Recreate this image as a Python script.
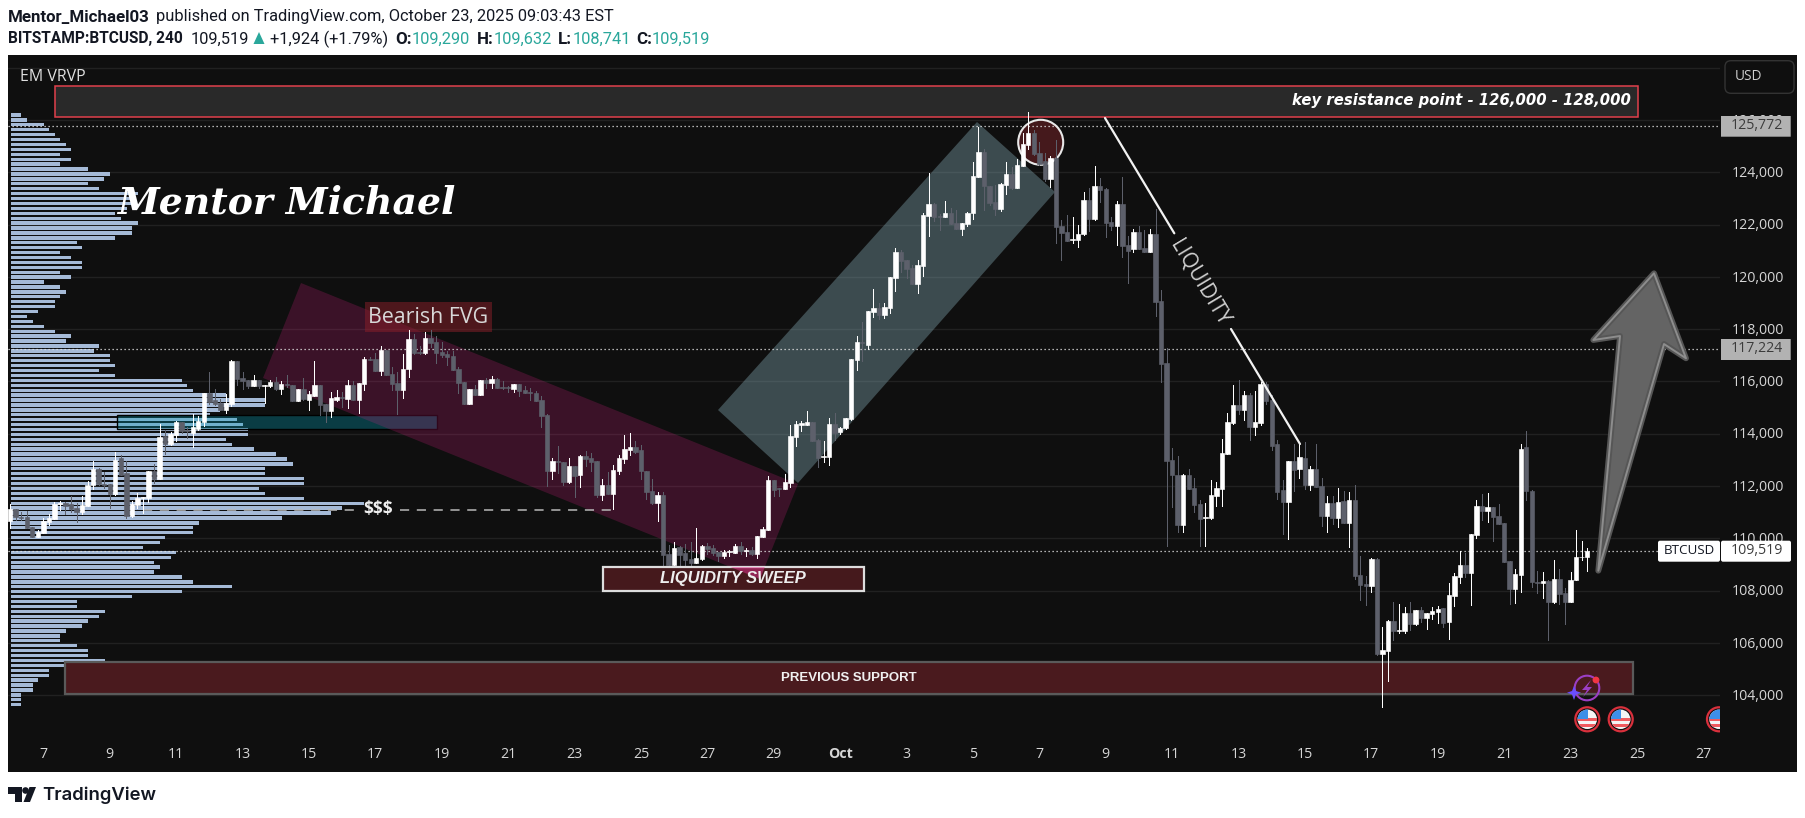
import numpy as np, pandas as pd, seaborn as sns
import matplotlib
matplotlib.use("Agg")
import matplotlib.pyplot as plt
import matplotlib.dates as mdates
from matplotlib.patches import Polygon, Rectangle, Circle, FancyBboxPatch
from matplotlib.transforms import Affine2D, ScaledTranslation

opens = [110660,111120,110830,110800,110420,110050,110210,110610,110740,111310,
111340,111310,111150,111000,111230,112040,112650,112080,112080,111690,
113060,112480,110850,111270,111550,111550,112570,112270,113910,113610,
113950,114450,114140,114030,114180,114450,115560,115290,115160,114910,
115140,116780,116130,116050,115820,116050,115840,115820,115980,115710,
115900,115860,115260,115710,115290,115440,115860,115140,114870,115290,
115390,115330,115860,115290,115900,116860,116860,116400,117200,116280,
115940,115670,116470,117620,117120,117090,117660,117510,117120,117050,
116970,116470,115980,115140,115710,115480,116050,115940,116090,115790,
115790,115710,115900,115670,115600,115560,115290,114715,112570,112960,
112920,112150,112760,112420,113150,113070,112960,111650,112040,111690,
112570,113030,113380,113490,113380,112570,111810,111350,111650,109400,
108980,109670,109440,109210,109050,109200,109700,109630,109490,109320,
109460,109450,109700,109510,109550,109400,110050,110310,112230,111920,
111880,112110,113870,114320,114330,114450,113760,113120,113110,114370,
114050,114220,114560,116820,117510,117390,118650,118810,118540,118810,
119960,120950,120640,120340,119730,120415,122330,122790,122330,122290,
122440,122060,121830,122020,122440,123820,124775,123475,122860,122595,
123510,123930,123400,124240,125040,125500,124740,124430,123740,124545,
121945,121715,121420,121410,121625,122940,122200,123475,123360,122100,
121945,122790,121220,121065,121715,121100,120950,121640,119075,116705,
112990,112420,110510,112420,111925,111310,110775,110775,111615,111885,
113225,114410,115100,114905,115480,114255,114410,115900,115290,113605,
111845,111390,112955,112650,113070,112040,112650,112000,110850,111350,
110775,111425,110585,111465,108595,108250,108175,109205,105575,105690,
106835,106455,106455,107140,106720,107255,106950,107105,107180,107335,
106800,107790,108520,108980,108670,110125,111235,111045,111195,110850,
110585,109130,108060,108595,113490,111810,108330,108275,108380,107550,
108440,107905,107575,108405,109280,109290]
highs = [111310,111120,110990,111040,110420,110310,110760,110930,111370,111420,
111400,111620,111340,111620,112190,112960,112680,112530,112080,113300,
113180,112960,111420,111720,111580,112570,112840,114370,114140,114060,
114500,114450,114240,114750,114680,115560,116360,115700,115310,115500,
116820,116780,116360,116050,116240,116050,115860,116050,116180,116010,
116240,115860,115710,116120,115630,116780,115860,115140,115610,115670,
115610,116050,116010,115940,116950,116950,117070,117350,117200,116560,
116370,117050,117960,117810,117350,117890,117960,117740,117510,117180,
117160,116560,115980,115710,115860,116050,116120,116210,116140,116010,
115820,115900,115900,115820,115730,115630,115440,114740,113060,113530,
112920,113060,112760,113180,113350,113250,112960,112270,112530,112800,
113180,113950,114030,113720,113570,112570,112270,111770,111770,109740,
109860,109700,109780,109860,110390,109740,109810,109740,109490,109550,
109550,109780,109860,109630,109670,110090,110430,112380,112230,111920,
112460,114330,114480,114480,114870,114450,113800,113720,114600,114790,
114260,114600,116860,117740,118260,118690,119520,118990,118990,119990,
121100,121030,120640,120450,120640,122430,123970,122810,122400,122900,
122630,122560,122060,122480,124390,125730,124880,123475,123510,123590,
124390,124190,124510,125490,126300,125620,125160,124720,124620,125234,
122175,122365,122290,121980,123245,123400,124240,123780,123400,122290,
122900,123820,121560,121830,121945,121790,121830,122595,119495,117265,
113455,113145,112460,112635,112305,111465,111350,112230,112140,113800,
114790,115860,116055,115635,115555,115635,115980,115980,115480,113760,
112230,112955,113605,113605,113680,112765,113605,112305,111615,111615,
111925,111810,111770,112040,109320,108555,109245,109245,106605,106875,
107565,107490,107370,107565,107255,107370,107140,107370,107410,107335,
108290,108670,109515,109435,110165,111465,111695,111730,111195,111310,
110585,109130,108825,113605,114100,111845,108750,108725,108405,109170,
108810,108085,108725,110315,109900,109632]
lows = [110380,110700,110700,110380,110050,110050,110210,110510,110740,111080,
110930,111020,110630,110930,111230,111900,112040,111910,111150,111650,
112420,110760,110830,111150,110950,111370,112100,112270,113210,113550,
113720,114040,113850,113500,114140,114290,115140,115100,114920,114800,
115060,115860,115710,115760,115820,115730,115190,115800,115670,115520,
115800,115260,115260,115290,114910,115440,114715,114460,114650,115260,
115030,114980,115290,114800,115670,116820,116400,116240,116240,115670,
114750,115370,116180,117050,117050,117050,117330,116690,116950,116630,
116440,115540,115140,115140,115480,115480,115750,115750,115750,115710,
115600,115600,115440,115560,115290,115260,114270,112000,112270,112500,
112040,112100,111590,111970,112760,112590,111590,111460,111690,111120,
112460,112880,113180,113260,112270,111500,111310,110670,108660,108910,
108910,108980,108790,108720,109050,109170,109400,109360,109130,109250,
109320,109420,109400,109320,109360,109250,110050,110310,111620,111620,
111880,111960,113530,114100,114330,113720,112730,112920,112800,113760,
113990,114170,114520,116440,116790,117240,118460,118390,118430,118620,
119460,120185,119960,119730,119380,120030,121560,122135,121790,122290,
122020,121830,121600,121945,122210,123820,122560,122750,122365,122520,
123170,123360,123400,124240,124890,124660,124280,123665,123430,121295,
120645,121370,121295,121140,121600,121755,122175,122860,121525,121790,
121220,120760,119765,120950,121065,120950,120950,118500,115990,109715,
111210,110240,110240,111885,111005,109715,109715,110735,111235,111235,
113225,114370,114755,114525,113760,113950,114335,115135,113375,111500,
110165,109975,111810,112305,111885,111845,111960,110470,110240,110545,
110430,110585,109665,108440,107640,107450,107945,105535,103560,104540,
106110,106375,106375,106490,106680,106800,106530,106910,106760,106605,
106145,107410,108290,108520,107450,110010,110700,110625,109895,110545,
109095,107485,107525,107945,111465,108150,107920,107700,106110,107510,
107485,106720,107550,108405,109170,108741]
closes = [111120,110830,110760,110380,110050,110250,110660,110790,111310,111340,
111250,111110,111000,111270,112040,112650,112080,112050,111690,112990,
112420,110860,111310,111550,111580,112570,112270,113870,113610,113990,
114450,114120,114090,114260,114480,115560,115220,115120,114920,115160,
116780,116090,116010,115820,116050,115820,115860,115980,115720,115900,
115850,115260,115710,115330,115520,115860,115100,114870,115370,115400,
115350,115860,115290,115940,116860,116830,116400,117200,116240,115900,
115670,116470,117620,117090,117090,117660,117470,117090,117010,116930,
116440,115940,115140,115710,115480,116050,115940,116090,115750,115750,
115760,115900,115650,115560,115540,115260,114690,112570,112960,112900,
112150,112760,112380,113150,113040,112920,111650,112040,111690,112610,
113070,113410,113490,113300,112570,111770,111340,111650,109360,108980,
109630,109360,109170,109050,109250,109700,109590,109450,109320,109475,
109510,109700,109510,109550,109400,110090,110350,112230,111850,111900,
112150,113910,114370,114410,114450,113720,113070,113150,114370,114030,
114220,114600,116860,117510,117480,118690,118810,118540,118850,119990,
120950,120610,120300,119730,120450,122365,122790,122290,122300,122440,
122020,121830,122060,122440,123860,124775,123475,122825,122595,123550,
123930,123400,124280,125080,125500,124700,124315,123740,124530,121905,
121675,121370,121450,121640,122940,122210,123475,123320,122060,121945,
122790,121180,120990,121715,121065,120950,121640,119040,116665,112955,
112420,110510,112420,111885,111270,110735,110815,111655,111925,113260,
114450,115100,114905,115480,114255,114450,115900,115250,113530,111770,
111390,112955,112610,113110,112040,112650,111960,110850,111350,110775,
111385,110585,111465,108555,108210,108175,109205,105575,105725,106835,
106455,106490,107140,106720,107255,106950,107140,107220,107295,106760,
107830,108555,108980,108670,110165,111235,111045,111195,110815,110545,
109095,108060,108635,113415,111810,108340,108275,108350,107575,108440,
107870,107575,108405,109285,109300,109519]

profile_volume = [31,48,98,114,131,148,164,181,148,181,148,231,297,280,231,264,380,363,363,348,
313,330,380,363,363,313,198,214,148,181,214,214,148,181,98,148,165,148,131,131,
81,48,65,98,131,181,165,264,248,297,297,313,264,313,513,529,546,646,763,763,
628,596,679,696,712,712,646,663,729,795,828,845,762,762,878,878,745,762,878,1060,
994,961,812,563,546,546,463,447,397,496,480,430,447,430,513,546,663,513,364,198,
198,281,264,231,214,165,148,148,198,231,231,281,198,115,115,82,65,65,31,31,31]
price_ticks = [104000,106000,108000,110000,112000,114000,116000,118000,120000,122000,124000,126000]
level_prices = [125772,117224,109519]
level_labels = ["125,772","117,224"]

# ---- pixel layout of the reference
W, H = 1806, 818
PXD = 33.2              # pixels per day
PXP = 0.02614           # pixels per dollar
sns.set_theme(style="dark", rc={"axes.edgecolor": "none"})
plt.rcParams['font.family'] = ['Open Sans', 'DejaVu Sans']
fig = plt.figure(figsize=(W/100, H/100), dpi=100, facecolor="white")
tf = Affine2D().scale(1, -1).translate(0, H)

L, R, T, B = 8, 1720, 55, 735
rect = [L/W, 1-B/H, (R-L)/W, (B-T)/H]
fig.add_artist(Rectangle((8, 55), 1789, 717, transform=tf, fc="#0f0f0f", ec="none", zorder=0))
def p_at(y): return 124000 + (172.3-y)/PXP
ylim = (p_at(B), p_at(T))
d0 = mdates.date2num(pd.Timestamp("2025-09-07"))
xlim = (d0-(43.3-L)/PXD, d0+(R-43.3)/PXD)

# ---- volume profile (own x scale)
ax_vp = fig.add_axes(rect, zorder=1, facecolor="none")
row_price = np.linspace(p_at(115), p_at(704.7), len(profile_volume))
sns.barplot(x=profile_volume, y=row_price, orient="h", native_scale=True, ax=ax_vp, color="#a5bad7",
            saturation=1, width=0.68, errorbar=None, linewidth=0, legend=False)
ax_vp.set_xlim(-9, (R-L)*3-9)
ax_vp.set_ylim(*ylim)
ax_vp.set_yticks(price_ticks+[128000]); ax_vp.set_yticklabels([]); ax_vp.set_xticks([])
ax_vp.set_ylabel(""); ax_vp.set_xlabel("")
ax_vp.grid(axis="y", color="#212121", lw=1); ax_vp.grid(axis="x", visible=False)
ax_vp.set_axisbelow(True); ax_vp.tick_params(length=0)
for s in ax_vp.spines.values(): s.set_visible(False)

# ---- price axes
ax = fig.add_axes(rect, zorder=2, facecolor="none")
ax.set_xlim(*xlim); ax.set_ylim(*ylim)
for s in ax.spines.values(): s.set_visible(False)
ax.grid(False)
ax.yaxis.tick_right()
ax.set_yticks(price_ticks); ax.set_yticklabels([f"{v:,}" for v in price_ticks])
ax.tick_params(axis="y", length=0, pad=8.2, labelsize=10.2, labelcolor="#d6d6d6")
for lab in ax.get_yticklabels():
    lab.set_verticalalignment("baseline")
    lab.set_transform(lab.get_transform() + ScaledTranslation(0, -3.4/72, fig.dpi_scale_trans))
days = [pd.Timestamp("2025-09-07")+pd.Timedelta(days=2*i) for i in range(12)]+[pd.Timestamp("2025-10-01")+pd.Timedelta(days=2*i) for i in range(14)]
ax.set_xticks(mdates.date2num(days))
ax.set_xticklabels(["Oct" if d.month == 10 and d.day == 1 else str(d.day) for d in days])
ax.tick_params(axis="x", length=0, pad=8.4, labelsize=10.2, labelcolor="#d6d6d6")
for lab in ax.get_xticklabels():
    if lab.get_text() == "Oct": lab.set_fontweight("bold")

def poly(pts, z, clip=None, **kw):
    p = Polygon(pts, closed=True, transform=tf, zorder=z, **kw)
    ax.add_patch(p)
    if clip is not None: p.set_clip_path(clip)
    return p

# drawings below candles
ax.add_patch(Rectangle((117, 414.7), 320, 14.3, transform=tf, fc=(0, .61, .71, .32), ec="#000000", lw=1, zorder=1))
PINK = [(301,283),(798,484),(760,579),(263,378)]
poly(PINK, 1.2, fc=(.86,.12,.51,.22), ec="none")
poly([(718,410),(798,483),(1055,192),(977,122)], 1.2, fc=(.51,.65,.69,.40), ec="none")
ax.add_patch(Rectangle((365,302), 127, 29.7, transform=tf, fc=(.55,.12,.16,.5), ec="none", zorder=1.3))
ax.add_patch(Circle((1040.7,142.3), 22.5, transform=tf, fc="#45191c", ec="#e8e8e8", lw=1.5, zorder=1.4))
ax.add_patch(Rectangle((65.3,661.7), 1567.4, 32.3, transform=tf, fc="#4a1a1e", ec="#5a5a5a", lw=1.6, zorder=1.3))
ax.add_patch(Rectangle((55.3,86.3), 1582.4, 31, transform=tf, fc="#292929", ec="#e0404c", lw=1.1, zorder=1.3))
for lv in level_prices:
    ax.axhline(lv, color="#e6e6e6", lw=0.9, ls=(0, (1, 2.2)), zorder=1.5)
ax.plot([xlim[0]+(143-L)/PXD, xlim[0]+(358-L)/PXD], [111100]*2, color="#b8b8b8", lw=1.1, ls=(0, (6, 5)), zorder=1.5)
ax.plot([xlim[0]+(400-L)/PXD, xlim[0]+(611-L)/PXD], [111100]*2, color="#b8b8b8", lw=1.1, ls=(0, (6, 5)), zorder=1.5)

# candles
t = mdates.date2num(pd.date_range("2025-09-06", periods=len(closes), freq="4h"))
o, h, l, c = map(np.array, (opens, highs, lows, closes))
up = c >= o
cols = np.where(up, "#ffffff", "#5d606b")
ax.vlines(t, l, h, colors=cols, lw=0.72, zorder=3, antialiased=False)
ax.bar(t, np.abs(c-o), bottom=np.minimum(o, c), width=4.4/PXD, color=cols, edgecolor=cols, lw=0.45, zorder=3.1)

# drawings above candles
box = Rectangle((602.5,567), 261, 23.5, transform=tf, fc="#45191c", ec="#dddddd", lw=1.6, zorder=4)
ax.add_patch(box)
poly(PINK, 4.1, clip=box, fc=(.95,.2,.6,.45), ec="none")
ax.plot(*zip(*[(xlim[0]+(x-L)/PXD, p_at(y)) for x, y in [(1105,118),(1174.3,233.3)]]), color="#f2f2f2", lw=1.6, zorder=4)
ax.plot(*zip(*[(xlim[0]+(x-L)/PXD, p_at(y)) for x, y in [(1231,329),(1300,444)]]), color="#f2f2f2", lw=1.6, zorder=4)

ARROW = [(1654,273.3),(1686,358.3),(1664,344),(1598.3,570.7),(1620,336),(1593.3,340)]
poly(ARROW, 4, fc="#646464", ec="#565656", lw=4.2, joinstyle="round")
poly(ARROW, 4.1, fc="none", ec="#8d8d8d", lw=1.4, joinstyle="round")

def flag(cx, cy):
    ax.add_patch(Circle((cx,cy), 12, transform=tf, fc="#0f0f0f", ec="#d9303c", lw=1.6, zorder=5))
    base = Circle((cx,cy), 9.7, transform=tf, fc="#f4f4f4", ec="none", zorder=5.1)
    ax.add_patch(base)
    for dy in (-1.5, 5):
        s = Rectangle((cx-11,cy+dy), 22, 3, transform=tf, fc="#ef5a5f", ec="none", zorder=5.2)
        ax.add_patch(s); s.set_clip_path(base)
    s = Rectangle((cx-11,cy-11), 11.5, 10.5, transform=tf, fc="#3d8fe8", ec="none", zorder=5.3)
    ax.add_patch(s); s.set_clip_path(base)
flag(1587.3,719.3); flag(1620.7,719.3); flag(1719,719.3)
# event icon
ax.add_patch(Circle((1587,688), 12.3, transform=tf, fc="none", ec="#9b3fc4", lw=1.5, zorder=5))
poly([(1591,680),(1582,690),(1587,690),(1583,697),(1592,687),(1587,687)], 5.1, fc="#9b3fc4", ec="none")
poly([(1574,686),(1576,691),(1581,692.7),(1576,694.5),(1574,700),(1572,694.5),(1567,692.7),(1572,691)], 5.2, fc="#6a4dff", ec="none")
ax.add_patch(Circle((1596,680), 3.4, transform=tf, fc="#f23645", ec="none", zorder=5.3))

# ---- texts
renderer = fig.canvas.get_renderer()
def txt(x, y, s, z=6, **kw):
    kw.setdefault("va", "center")
    return fig.text(x/W, 1-y/H, s, zorder=z, **kw)
def fit(x, y, s, width, **kw):
    a = txt(x, y, s, fontsize=10, **kw)
    a.set_fontsize(10*width/a.get_window_extent(renderer).width)
    return a
INK = "#131722"
fit(19.7, 76.7, "EM VRVP", 66, color="#e0e0e0")
fit(286, 203, "Mentor Michael", 338, family="DejaVu Serif", style="italic", weight="bold", color="white", ha="center")
fit(1631, 101, "key resistance point - 126,000 - 128,000", 338, family="DejaVu Sans", style="oblique", weight="bold", color="white", ha="right")
fit(849, 678, "PREVIOUS SUPPORT", 136, family="Liberation Sans", weight="bold", color="#f0f0f0", ha="center")
fit(733, 579, "LIQUIDITY SWEEP", 146, family="Liberation Sans", style="italic", weight="bold", color="#eeeeee", ha="center")
fit(428.5, 317, "Bearish FVG", 120, color="#d8d8d8", ha="center")
fit(378, 509, "$$$", 30, color="#eeeeee", ha="center", weight="bold")
txt(1200, 283, "LIQUIDITY", color="#d0d0d0", fontsize=14.8, ha="center", rotation=-59, rotation_mode="anchor")

def boxed(x0, y0, x1, y1, fc, ec="none", rad=0, z=7):
    fig.add_artist(FancyBboxPatch((x0+rad,y0+rad), x1-x0-2*rad, y1-y0-2*rad, boxstyle=f"round,pad={rad},rounding_size={rad}", transform=tf, fc=fc, ec=ec, lw=1, zorder=z))
boxed(1721,116,1790.7,136.7,"#b2b2b2")
txt(1757, 125.3, level_labels[0], z=8, color="#3b3b3b", fontsize=10.2, ha="center")
boxed(1721,339,1790.7,360,"#b2b2b2")
txt(1757, 348.3, level_labels[1], z=8, color="#3b3b3b", fontsize=10.2, ha="center")
boxed(1658,540.7,1720,561.7,"white", rad=2)
txt(1689, 550.5, "BTCUSD", z=8, color="#131722", fontsize=9.6, ha="center")
boxed(1721,540.7,1791,561.7,"white", rad=2)
txt(1757, 550, "109,519", z=8, color="#3b3b3b", fontsize=10.2, ha="center")
boxed(1725,60.7,1794,93.3,"#0f0f0f", ec="#333333", rad=6)
txt(1749, 76.7, "USD", z=8, color="#cfcfcf", fontsize=9.8, ha="center")

# header
HF = "Roboto"
a = fit(8, 17, "Mentor_Michael03", 142, family=HF, weight="bold", color=INK)
bs = a.get_fontsize()
a = fit(156, 17, "published on TradingView.com, October 23, 2025 09:03:43 EST", 455, family=HF, color=INK)
rs = a.get_fontsize()
fit(8, 39, "BITSTAMP:BTCUSD, 240", 175, family=HF, weight="bold", color=INK)
txt(190.5, 39, "109,519", family=HF, color=INK, fontsize=rs)
TEAL = "#2aa79b"
fig.add_artist(Polygon([(253.5,44),(259,32),(264.5,44)], transform=tf, fc=TEAL, ec="none", zorder=6))
txt(270, 39, "+1,924 (+1.79%)", family=HF, color=INK, fontsize=rs)
for x, s in [(395,"O:"),(477,"H:"),(558,"L:"),(636,"C:")]:
    txt(x, 39, s, family=HF, weight="bold", color=INK, fontsize=bs)
for x, s in [(412,"109,290"),(494,"109,632"),(573,"108,741"),(652,"109,519")]:
    txt(x, 39, s, family=HF, color=TEAL, fontsize=rs)

# logo
fig.add_artist(Polygon([(8,787),(22,787),(22,802),(15,802),(15,794),(8,794)], transform=tf, fc=INK, ec="none"))
fig.add_artist(Circle((25.5,790.5), 3.3, transform=tf, fc=INK, ec="none"))
fig.add_artist(Polygon([(29.5,787),(36,787),(30,802),(23.5,802)], transform=tf, fc=INK, ec="none"))
fit(42.5, 795, "TradingView", 114, family="Inter", weight="semibold", color=INK)

fig.savefig("out.png", dpi=100, facecolor="white")
